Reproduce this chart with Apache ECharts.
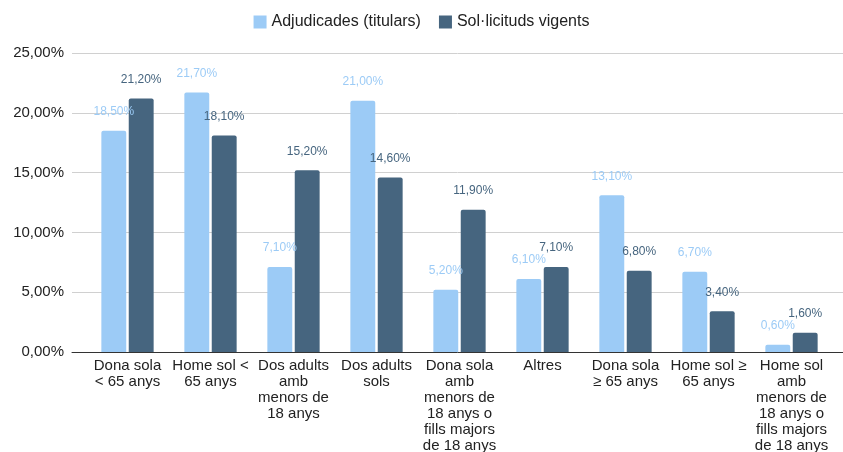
<!DOCTYPE html>
<html>
<head>
<meta charset="utf-8">
<script src="https://cdn.jsdelivr.net/npm/echarts@6/dist/echarts.min.js"></script>
<style>
  html, body { margin: 0; padding: 0; background: #fff; }
  #main { width: 843px; height: 452px; }
</style>
</head>
<body>
<div id="main"></div>
<script>
// categories (wrapped like the original tick labels)
var categories = [
  'Dona sola\n< 65 anys',
  'Home sol <\n65 anys',
  'Dos adults\namb\nmenors de\n18 anys',
  'Dos adults\nsols',
  'Dona sola\namb\nmenors de\n18 anys o\nfills majors\nde 18 anys',
  'Altres',
  'Dona sola\n≥ 65 anys',
  'Home sol ≥\n65 anys',
  'Home sol\namb\nmenors de\n18 anys o\nfills majors\nde 18 anys'
];
var seriesNames = ['Adjudicades (titulars)', 'Sol·licituds vigents'];
var adjudicades = [18.5, 21.7, 7.1, 21.0, 5.2, 6.1, 13.1, 6.7, 0.6];
var solicituds = [21.2, 18.1, 15.2, 14.6, 11.9, 7.1, 6.8, 3.4, 1.6];

var LIGHT = '#9ccbf6';
var DARK = '#46657f';
var FONT = 'Arial, "Liberation Sans", sans-serif';

function pct(v) {
  return v.toFixed(2).replace('.', ',') + '%';
}

var myChart = echarts.init(document.getElementById('main'));

var option = {
  animation: false,
  textStyle: { fontFamily: FONT },
  legend: {
    top: 9,
    left: 'center',
    itemWidth: 13,
    itemHeight: 13,
    itemGap: 18,
    icon: 'rect',
    textStyle: { fontSize: 16, color: '#222', fontFamily: FONT },
    data: seriesNames
  },
  grid: [
    // wide grid: y labels, gridlines, axis line
    { left: 72, right: 0, top: 53, bottom: 100, outerBoundsMode: 'none', containLabel: false },
    // narrower grid holding the bars
    { left: 86, right: 10, top: 53, bottom: 100, outerBoundsMode: 'none', containLabel: false }
  ],
  xAxis: [
    {
      type: 'category',
      gridIndex: 0,
      data: [''],
      axisLine: { show: true, lineStyle: { color: '#333', width: 1 } },
      axisTick: { show: false },
      axisLabel: { show: false }
    },
    {
      type: 'category',
      gridIndex: 1,
      data: categories,
      axisLine: { show: false },
      axisTick: { show: false },
      axisLabel: {
        interval: 0,
        margin: 6,
        fontSize: 15,
        lineHeight: 16,
        color: '#222',
        fontFamily: FONT,
        verticalAlign: 'top'
      }
    }
  ],
  yAxis: [
    {
      type: 'value',
      gridIndex: 0,
      min: 0,
      max: 25,
      interval: 5,
      axisLine: { show: false },
      axisTick: { show: false },
      splitLine: { lineStyle: { color: '#d0d0d0', width: 1 } },
      axisLabel: {
        margin: 8,
        fontSize: 15,
        color: '#222',
        fontFamily: FONT,
        formatter: function (v) { return pct(v); }
      }
    },
    {
      type: 'value',
      gridIndex: 1,
      min: 0,
      max: 25,
      interval: 5,
      show: false
    }
  ],
  series: [
    {
      name: seriesNames[0],
      type: 'bar',
      xAxisIndex: 1,
      yAxisIndex: 1,
      data: adjudicades,
      barWidth: '30%',
      barGap: '10%',
      itemStyle: { color: LIGHT, borderRadius: [2, 2, 0, 0] },
      label: {
        show: true,
        position: 'top',
        distance: 13,
        fontSize: 12,
        color: LIGHT,
        fontFamily: FONT,
        formatter: function (p) { return pct(p.value); }
      }
    },
    {
      name: seriesNames[1],
      type: 'bar',
      xAxisIndex: 1,
      yAxisIndex: 1,
      data: solicituds,
      barWidth: '30%',
      barGap: '10%',
      itemStyle: { color: DARK, borderRadius: [2, 2, 0, 0] },
      label: {
        show: true,
        position: 'top',
        distance: 13,
        fontSize: 12,
        color: DARK,
        fontFamily: FONT,
        formatter: function (p) { return pct(p.value); }
      }
    }
  ]
};

option && myChart.setOption(option);
</script>
</body>
</html>
